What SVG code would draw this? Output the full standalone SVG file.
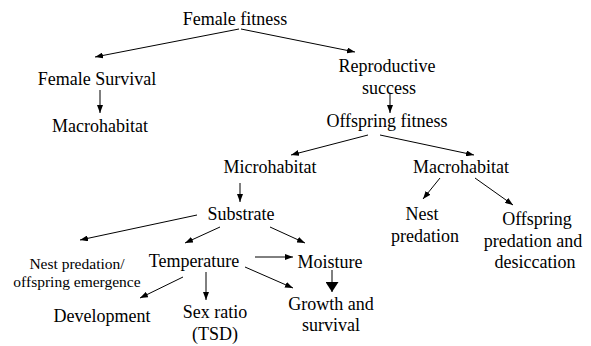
<svg xmlns="http://www.w3.org/2000/svg" width="591" height="346" viewBox="0 0 591 346">
<style>
text{font-family:'Liberation Serif','DejaVu Serif',serif;fill:#000;text-anchor:middle}
.n{font-size:18px}
.s{font-size:15.5px}
.c{stroke:#000;stroke-width:1;fill:none}
</style>
<defs>
<marker id="a" markerUnits="userSpaceOnUse" markerWidth="8" markerHeight="6" refX="8" refY="3" orient="auto"><path d="M0,0L8,3L0,6z" fill="#000"/></marker>
<marker id="b" markerUnits="userSpaceOnUse" markerWidth="10" markerHeight="13" refX="10" refY="6.5" orient="auto"><path d="M0,0L10,6.5L0,13z" fill="#000"/></marker>
</defs>
<rect width="591" height="346" fill="#fff"/>
<g id="connectors">
<line class="c" x1="239" y1="29" x2="95" y2="57" marker-end="url(#a)"/>
<line class="c" x1="241" y1="29" x2="355" y2="52" marker-end="url(#a)"/>
<line class="c" x1="100" y1="90" x2="100" y2="113" marker-end="url(#a)"/>
<line class="c" x1="390" y1="93" x2="390" y2="113" marker-end="url(#a)"/>
<line class="c" x1="368" y1="135" x2="291" y2="155" marker-end="url(#a)"/>
<line class="c" x1="380" y1="135" x2="474" y2="155" marker-end="url(#a)"/>
<line class="c" x1="240" y1="183" x2="240" y2="202" marker-end="url(#a)"/>
<line class="c" x1="197" y1="215" x2="80" y2="240" marker-end="url(#a)"/>
<line class="c" x1="220" y1="227" x2="185" y2="243" marker-end="url(#a)"/>
<line class="c" x1="270" y1="227" x2="305" y2="243" marker-end="url(#a)"/>
<line class="c" x1="255" y1="257" x2="293" y2="257" marker-end="url(#a)"/>
<line class="c" x1="245" y1="267" x2="293" y2="288" marker-end="url(#a)"/>
<line class="c" x1="183" y1="277" x2="140" y2="298" marker-end="url(#a)"/>
<line class="c" x1="206" y1="272" x2="206" y2="300" marker-end="url(#a)"/>
<line class="c" x1="332" y1="270" x2="332" y2="292" marker-end="url(#b)"/>
<line class="c" x1="440" y1="178" x2="423" y2="199" marker-end="url(#a)"/>
<line class="c" x1="475" y1="178" x2="513" y2="205" marker-end="url(#a)"/>
</g>
<g id="female-fitness"><text class="n" x="235" y="25">Female fitness</text></g>
<g id="female-survival"><text class="n" x="97" y="85">Female Survival</text></g>
<g id="macrohabitat-1"><text class="n" x="100" y="132">Macrohabitat</text></g>
<g id="reproductive-success"><text class="n" x="387" y="72">Reproductive</text><text class="n" x="389" y="94">success</text></g>
<g id="offspring-fitness"><text class="n" x="387" y="127">Offspring fitness</text></g>
<g id="microhabitat"><text class="n" x="270" y="173">Microhabitat</text></g>
<g id="macrohabitat-2"><text class="n" x="461" y="173">Macrohabitat</text></g>
<g id="substrate"><text class="n" x="241" y="220">Substrate</text></g>
<g id="nest-predation-emergence"><text class="s" x="77" y="269">Nest predation/</text><text class="s" x="77" y="287">offspring emergence</text></g>
<g id="temperature"><text class="n" x="194" y="267">Temperature</text></g>
<g id="moisture"><text class="n" x="330" y="268">Moisture</text></g>
<g id="development"><text class="n" x="102" y="322">Development</text></g>
<g id="sex-ratio"><text class="n" x="215" y="318">Sex ratio</text><text class="n" x="215" y="340">(TSD)</text></g>
<g id="growth-survival"><text class="n" x="331" y="310">Growth and</text><text class="n" x="331" y="331">survival</text></g>
<g id="nest-predation"><text class="n" x="422" y="220">Nest</text><text class="n" x="425" y="242">predation</text></g>
<g id="offspring-predation"><text class="n" x="537" y="225">Offspring</text><text class="n" x="533" y="247">predation and</text><text class="n" x="535" y="268">desiccation</text></g>
</svg>
